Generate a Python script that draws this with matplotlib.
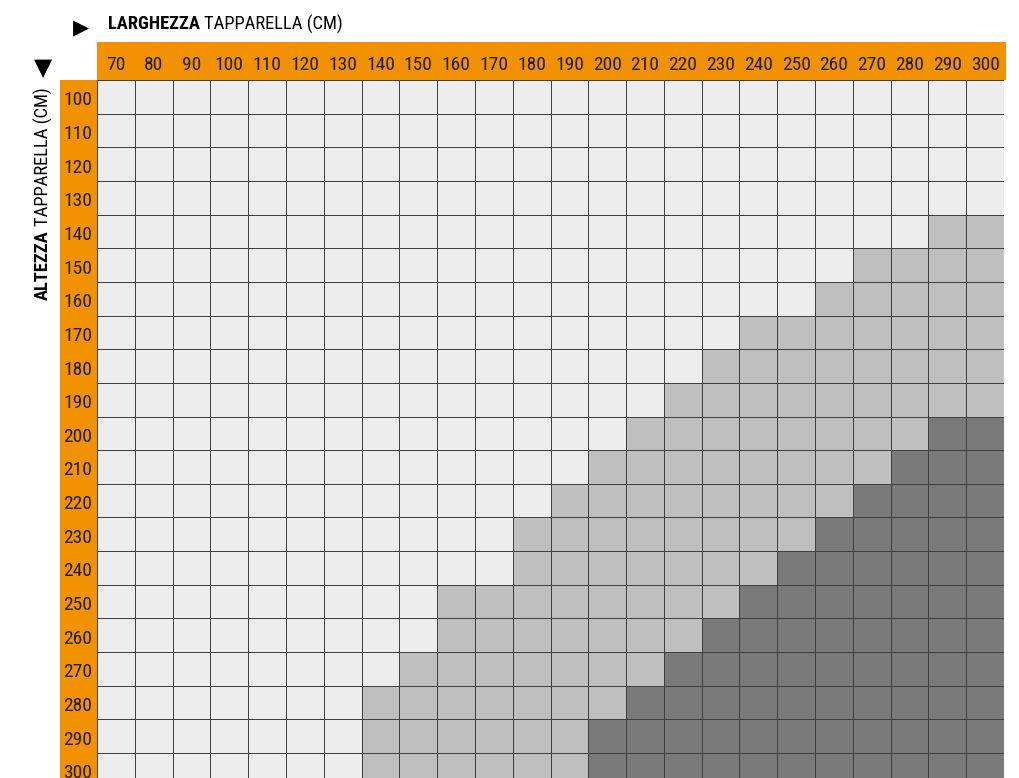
import numpy as np
import matplotlib
matplotlib.use("Agg")
import matplotlib.pyplot as plt
from matplotlib import font_manager
from matplotlib.colors import ListedColormap
from matplotlib.patches import Rectangle

# widths (columns) and heights (rows), in cm
widths = list(range(70, 301, 10))
heights = list(range(100, 301, 10))

# per height: first width with medium shade, first width with dark shade (None = none)
medium_from = [None, None, None, None, 290, 270, 260, 240, 230, 220, 210,
               200, 190, 180, 180, 160, 160, 150, 140, 140, 140]
dark_from = [None, None, None, None, None, None, None, None, None, None, 290,
             280, 270, 260, 250, 240, 230, 220, 210, 200, 200]

ORANGE = "#f39200"
TXT = "#1e1a14"

# pick a narrow font if one is around
names = {f.name for f in font_manager.fontManager.ttflist}
narrow = [n for n in ["Liberation Sans Narrow", "Roboto Condensed",
                      "Open Sans Condensed", "Noto Sans Condensed"] if n in names]
cond_dejavu = [f for f in font_manager.fontManager.ttflist
               if f.name == "DejaVu Sans" and "Condensed" in f.fname]
if narrow:
    FONT = dict(family=[narrow[0], "DejaVu Sans"])
    SIZE = 14
elif cond_dejavu:
    FONT = dict(family=["DejaVu Sans"], fontstretch="condensed")
    SIZE = 13
else:
    FONT = dict(family=["Roboto", "DejaVu Sans"])
    SIZE = 13
TSIZE = SIZE * 0.955

levels = np.zeros((len(heights), len(widths)))
for i, h in enumerate(heights):
    for j, w in enumerate(widths):
        if medium_from[i] is not None and w >= medium_from[i]:
            levels[i, j] = 1
        if dark_from[i] is not None and w >= dark_from[i]:
            levels[i, j] = 2

W, H = 1020, 778
fig = plt.figure(figsize=(W / 100, H / 100), dpi=100)

# grid area in pixels: x 97..1004, top at 80, rows ~33.65 px
left_px, right_px, top_px = 97, 1004, 80
row_px = 33.65
bottom_px = top_px + row_px * len(heights)
ax = fig.add_axes([left_px / W, 1 - bottom_px / H,
                   (right_px - left_px) / W, (bottom_px - top_px) / H])

x_edges = np.array(widths + [widths[-1] + 10]) - 5
y_edges = np.array(heights + [heights[-1] + 10]) - 5
cmap = ListedColormap(["#ededed", "#bfbfbf", "#7a7a7a"])
ax.pcolormesh(x_edges, y_edges, levels, cmap=cmap, vmin=-0.5, vmax=2.5,
              edgecolors="#404040", linewidth=0.6)
ax.set_xlim(x_edges[0], x_edges[-1])
ax.set_ylim(y_edges[-1], y_edges[0])
ax.axis("off")

px_per_x = (right_px - left_px) / (x_edges[-1] - x_edges[0])
px_per_y = row_px / 10

# orange header band and left band
head_h = (top_px - 42) / px_per_y
ax.add_patch(Rectangle((x_edges[0], y_edges[0] - head_h),
                       x_edges[-1] - x_edges[0] + 2 / px_per_x, head_h,
                       facecolor=ORANGE, edgecolor="none", clip_on=False))
band_w = (left_px - 60) / px_per_x
ax.add_patch(Rectangle((x_edges[0] - band_w, y_edges[0]), band_w,
                       y_edges[-1] - y_edges[0],
                       facecolor=ORANGE, edgecolor="none", clip_on=False))

for w in widths:
    ax.text(w, y_edges[0] - 15 / px_per_y, str(w), ha="center", va="center",
            fontsize=SIZE, color=TXT, clip_on=False, **FONT)
for h in heights:
    ax.text(x_edges[0] - 19 / px_per_x, h + 3.5 / px_per_y, str(h),
            ha="center", va="center", fontsize=SIZE, color=TXT,
            clip_on=False, **FONT)

# axis titles
t1 = fig.text(108 / W, 1 - 24 / H, "LARGHEZZA", ha="left", va="center",
              fontsize=TSIZE, fontweight="bold", color="black", **FONT)
ax.annotate("TAPPARELLA (CM)", xy=(1, 0.5), xycoords=t1, xytext=(3, 0),
            textcoords="offset points", ha="left", va="center",
            fontsize=TSIZE, color="black", **FONT)
t2 = fig.text(43 / W, 1 - 300 / H, "ALTEZZA", ha="center", va="bottom",
              rotation=90, fontsize=TSIZE, fontweight="bold", color="black",
              **FONT)
ax.annotate("TAPPARELLA (CM)", xy=(0.5, 1), xycoords=t2, xytext=(0, 3),
            textcoords="offset points", ha="center", va="bottom",
            rotation=90, fontsize=TSIZE, color="black", **FONT)

fig.text(81 / W, 1 - 28 / H, "\u25b6", ha="center", va="center",
         fontsize=15, color="black", family="DejaVu Sans")
fig.text(43 / W, 1 - 68 / H, "\u25bc", ha="center", va="center",
         fontsize=17, color="black", family="DejaVu Sans")

fig.savefig("out.png", dpi=100)
